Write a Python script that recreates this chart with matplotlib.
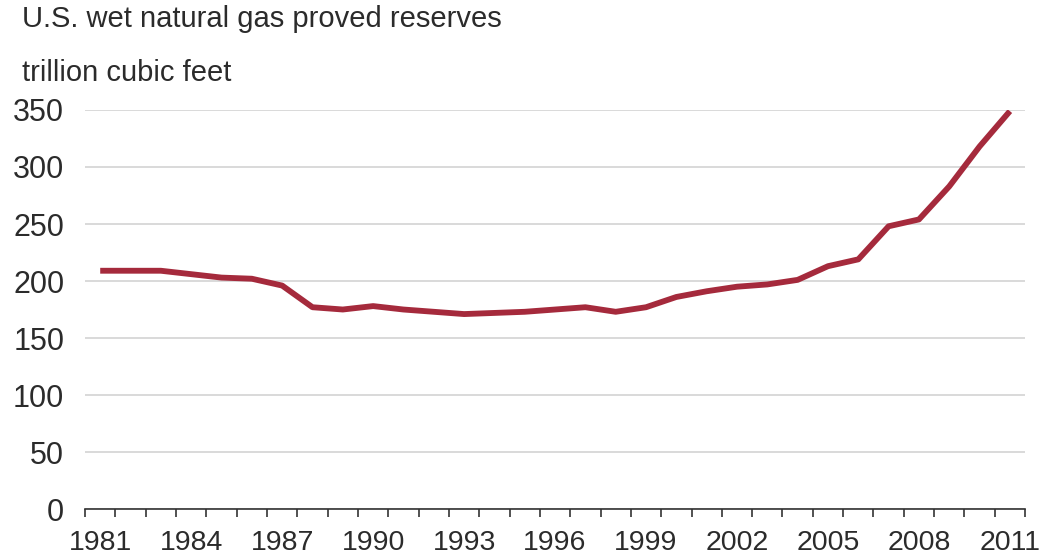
import matplotlib.pyplot as plt
from matplotlib.ticker import FixedLocator, NullFormatter

plt.rcParams.update({
    "font.family": ["Liberation Sans", "DejaVu Sans"],
    "font.size": 20,
    "text.color": "#2b2b2b",
    "xtick.color": "#2b2b2b",
    "ytick.color": "#2b2b2b",
})

# ── data (trillion cubic feet) ───────────────────────────────────────────────
years = list(range(1981, 2012))
reserves = [209, 209, 209, 206, 203, 202, 196, 177, 175, 178,
            175, 173, 171, 172, 173, 175, 177, 173, 177, 186,
            191, 195, 197, 201, 213, 219, 248, 254, 283, 318, 349]
y_ticks = [0, 50, 100, 150, 200, 250, 300, 350]
label_years = list(range(1981, 2012, 3))

LINE_COLOR = "#A52A3C"
GRID_COLOR = "#D9D9D9"

# ── plot ─────────────────────────────────────────────────────────────────────
fig = plt.figure(figsize=(10.41, 5.6), dpi=100)
ax = fig.add_axes([0.0817, 0.091, 0.903, 0.7126])

x = list(range(len(years)))
ax.plot(x, reserves, color=LINE_COLOR, lw=4.2, solid_capstyle="butt",
        solid_joinstyle="round", zorder=3)

ax.set_xlim(-0.5, len(years) - 0.5)
ax.set_ylim(0, 350)

ax.set_yticks(y_ticks)
ax.yaxis.grid(True, color=GRID_COLOR, lw=1.4)
ax.set_axisbelow(True)
ax.tick_params(axis="y", length=0, pad=15, labelsize=22)

ax.set_xticks([years.index(y) for y in label_years])
ax.set_xticklabels([str(y) for y in label_years])
ax.xaxis.set_minor_locator(FixedLocator([i - 0.5 for i in range(len(years) + 1)]))
ax.xaxis.set_minor_formatter(NullFormatter())
ax.tick_params(axis="x", which="major", length=0, pad=15, labelsize=20.5)
ax.tick_params(axis="x", which="minor", direction="out", length=6,
               width=1.2, color="#333333")

for side in ("top", "right", "left"):
    ax.spines[side].set_visible(False)
ax.spines["bottom"].set_color("#333333")
ax.spines["bottom"].set_linewidth(1.2)

fig.text(0.021, 0.966, "U.S. wet natural gas proved reserves",
         fontsize=21, ha="left", va="center")
fig.text(0.021, 0.87, "trillion cubic feet",
         fontsize=21, ha="left", va="center")

fig.savefig("out.png", dpi=100)
